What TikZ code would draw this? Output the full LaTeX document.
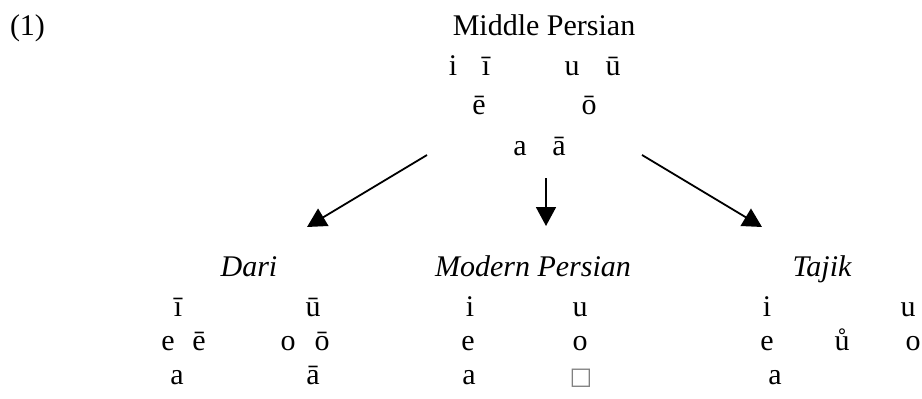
\documentclass[tikz,border=0pt]{standalone}
\usepackage{fontspec}
\setmainfont{Liberation Serif}
\newfontfamily\boxfont{DejaVu Sans}
\usetikzlibrary{arrows.meta}
\tikzset{
  txt/.style={anchor=base, inner sep=0pt, outer sep=0pt, font=\fontsize{30}{36}\selectfont},
  head/.style={txt, font=\fontsize{30}{36}\selectfont\itshape},
  arr/.style={line width=1.8pt, -{Triangle[length=19pt,width=20pt]}}
}
\begin{document}
\begin{tikzpicture}[x=1pt,y=-1pt]
\useasboundingbox (0,0) rectangle (922,399);
% label
\node[txt, anchor=base west] (num) at (10,35) {(1)};
% Middle Persian
\node[txt] (mp) at (544,35) {Middle Persian};
\node[txt] (mpi)  at (453,75) {i};
\node[txt] (mpii) at (486,75) {ī};
\node[txt] (mpu)  at (572,75) {u};
\node[txt] (mpuu) at (613,75) {ū};
\node[txt] (mpee) at (479,114) {ē};
\node[txt] (mpoo) at (589,114) {ō};
\node[txt] (mpa)  at (520,155) {a};
\node[txt] (mpaa) at (559,155) {ā};
% arrows
\coordinate (l1) at (427,155);
\coordinate (l2) at (307,227);
\coordinate (m1) at (546,178);
\coordinate (m2) at (546,226);
\coordinate (r1) at (642,155);
\coordinate (r2) at (762,227);
\draw[arr] (l1) -- (l2);
\draw[arr] (m1) -- (m2);
\draw[arr] (r1) -- (r2);
% Dari
\node[head] (dari) at (249,276) {Dari};
\node[txt] (dii) at (178,316) {ī};
\node[txt] (duu) at (313,316) {ū};
\node[txt] (de)  at (168,350) {e};
\node[txt] (dee) at (199,350) {ē};
\node[txt] (do)  at (288,350) {o};
\node[txt] (doo) at (322,350) {ō};
\node[txt] (da)  at (177,384) {a};
\node[txt] (daa) at (313,384) {ā};
% Modern Persian
\node[head] (modp) at (533,276) {Modern Persian};
\node[txt] (pi) at (470,316) {i};
\node[txt] (pu) at (580,316) {u};
\node[txt] (pe) at (468,350) {e};
\node[txt] (po) at (580,350) {o};
\node[txt] (pa) at (469,384) {a};
\node[txt, font=\boxfont\fontsize{24}{28}\selectfont, text=gray] (pbox) at (581,384) {□};
% Tajik
\node[head] (taj) at (822,276) {Tajik};
\node[txt] (ti) at (767,316) {i};
\node[txt] (tu) at (908,316) {u};
\node[txt] (te) at (767,350) {e};
\node[txt] (tuu) at (842,350) {ů};
\node[txt] (to) at (913,350) {o};
\node[txt] (ta) at (775,384) {a};
\end{tikzpicture}
\end{document}
